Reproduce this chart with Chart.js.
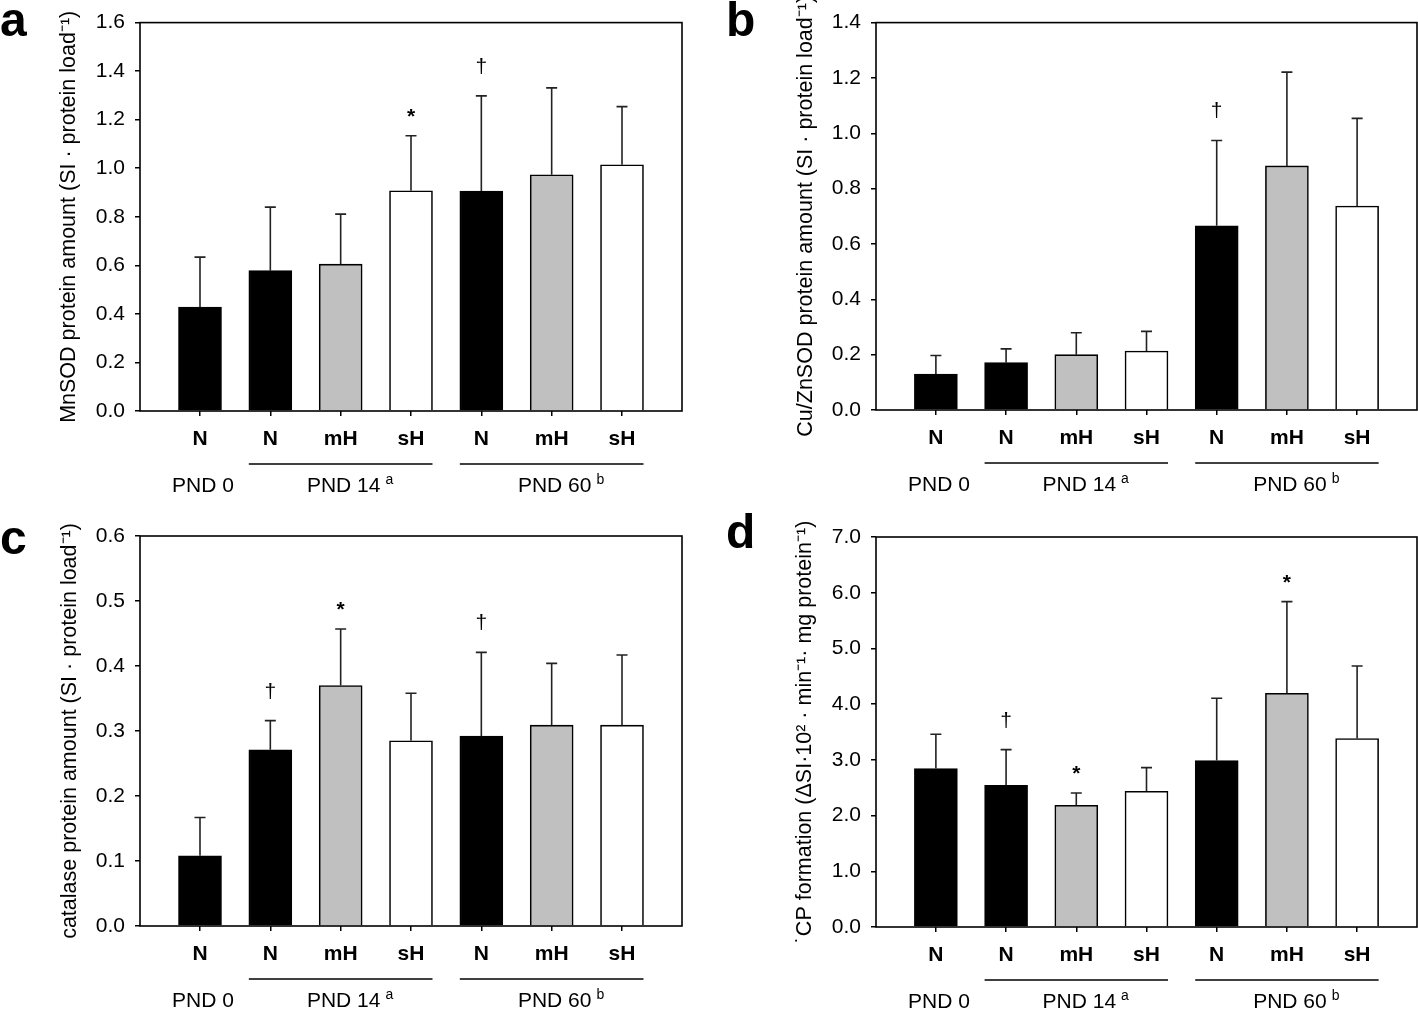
<!DOCTYPE html>
<html>
<head>
<meta charset="utf-8">
<script src="https://cdn.jsdelivr.net/npm/chart.js@4.4.1/dist/chart.umd.min.js"></script>
<style>
  body { margin: 0; background: #fff; }
  #wrap { position: relative; width: 1418px; height: 1010px; overflow: hidden; }
  .panel { position: absolute; }
</style>
</head>
<body>
<div id="wrap">
  <div class="panel" style="left:0;top:0;width:710px;height:510px"><canvas id="chartA"></canvas></div>
  <div class="panel" style="left:710px;top:0;width:708px;height:510px"><canvas id="chartB"></canvas></div>
  <div class="panel" style="left:0;top:510px;width:710px;height:500px"><canvas id="chartC"></canvas></div>
  <div class="panel" style="left:710px;top:510px;width:708px;height:500px"><canvas id="chartD"></canvas></div>
</div>
<script>
// categories (same for all four panels)
const groups = ["N", "N", "mH", "sH", "N", "mH", "sH"];
const barColors = ["#000000", "#000000", "#c0c0c0", "#ffffff", "#000000", "#c0c0c0", "#ffffff"];

// age groups under the x axis
const ageNames = ["PND 0", "PND 14", "PND 60"];
const ageSup = ["", "a", "b"];
const ageFrom = [0, 1, 4];
const ageTo = [0, 3, 6];

// a: MnSOD
const mnsodMean = [0.428, 0.578, 0.605, 0.907, 0.906, 0.973, 1.014];
const mnsodSd = [0.206, 0.262, 0.206, 0.227, 0.392, 0.358, 0.240];
const mnsodMarks = ["", "", "", "*", "\u2020", "", ""];

// b: Cu/ZnSOD
const cuznMean = [0.130, 0.171, 0.200, 0.213, 0.666, 0.882, 0.737];
const cuznSd = [0.067, 0.050, 0.079, 0.071, 0.308, 0.339, 0.317];
const cuznMarks = ["", "", "", "", "\u2020", "", ""];

// c: catalase
const catMean = [0.108, 0.271, 0.370, 0.285, 0.292, 0.309, 0.309];
const catSd = [0.059, 0.045, 0.087, 0.073, 0.129, 0.095, 0.108];
const catMarks = ["", "\u2020", "*", "", "\u2020", "", ""];

// d: CP formation
const cpMean = [2.843, 2.543, 2.184, 2.436, 2.987, 4.195, 3.382];
const cpSd = [0.616, 0.641, 0.221, 0.425, 1.118, 1.645, 1.303];
const cpMarks = ["", "\u2020", "*", "", "", "*", ""];

const FONT = "Arial, 'Liberation Sans', Helvetica, sans-serif";

function makePanel(id, cfg) {
  const extras = {
    id: "extras",
    afterDraw(chart) {
      const ctx = chart.ctx;
      const xs = chart.scales.x, ys = chart.scales.y;
      const area = chart.chartArea;
      ctx.save();

      // error bars (upper only)
      ctx.strokeStyle = "#222";
      ctx.lineWidth = 1.6;
      cfg.mean.forEach((m, i) => {
        const x = xs.getPixelForValue(i);
        const y0 = ys.getPixelForValue(m);
        const y1 = ys.getPixelForValue(m + cfg.sd[i]);
        ctx.beginPath();
        ctx.moveTo(x, y0); ctx.lineTo(x, y1);
        ctx.moveTo(x - 5.5, y1); ctx.lineTo(x + 5.5, y1);
        ctx.stroke();

        const mark = cfg.marks[i];
        if (mark) {
          ctx.fillStyle = "#000";
          ctx.textAlign = "center";
          ctx.textBaseline = "alphabetic";
          if (mark === "*") {
            ctx.font = "bold 21px " + FONT;
            ctx.fillText(mark, x, y1 - 13);
          } else {
            ctx.font = "21px " + FONT;
            ctx.fillText(mark, x, y1 - 23);
          }
        }
      });

      // frame
      ctx.strokeStyle = "#000";
      ctx.lineWidth = 1.6;
      ctx.strokeRect(area.left, area.top, area.right - area.left, area.bottom - area.top);

      // age groups
      const half = 21.5;
      ageNames.forEach((name, g) => {
        const xa = xs.getPixelForValue(ageFrom[g]);
        const xb = xs.getPixelForValue(ageTo[g]);
        if (ageTo[g] > ageFrom[g]) {
          ctx.strokeStyle = "#000";
          ctx.lineWidth = 1.5;
          ctx.beginPath();
          ctx.moveTo(xa - half, area.bottom + 53);
          ctx.lineTo(xb + half, area.bottom + 53);
          ctx.stroke();
        }
        const cx = (xa + xb) / 2 + 3;
        ctx.fillStyle = "#000";
        ctx.font = "21px " + FONT;
        ctx.textAlign = "center";
        ctx.textBaseline = "alphabetic";
        ctx.fillText(name, cx, area.bottom + 81);
        if (ageSup[g]) {
          const w = ctx.measureText(name).width;
          ctx.font = "14px " + FONT;
          ctx.textAlign = "left";
          ctx.fillText(ageSup[g], cx + w / 2 + 5, area.bottom + 73);
        }
      });

      // panel letter
      ctx.fillStyle = "#000";
      ctx.font = "bold 48px " + FONT;
      ctx.textAlign = "left";
      ctx.textBaseline = "alphabetic";
      ctx.fillText(cfg.letter, cfg.letterX, cfg.letterY);

      ctx.restore();
    }
  };

  return new Chart(document.getElementById(id), {
    type: "bar",
    data: {
      datasets: [{
        data: cfg.mean.map((v, i) => ({ x: i, y: v })),
        backgroundColor: barColors,
        borderColor: "#000",
        borderWidth: 1.6,
        barThickness: 43
      }]
    },
    options: {
      responsive: true,
      maintainAspectRatio: false,
      animation: false,
      layout: { padding: { top: cfg.padTop, right: cfg.padRight, left: 0, bottom: 0 } },
      plugins: { legend: { display: false }, tooltip: { enabled: false } },
      scales: {
        x: {
          type: "linear",
          offset: false,
          min: -0.853,
          max: 6.853,
          afterBuildTicks: s => { s.ticks = groups.map((g, i) => ({ value: i })); },
          afterFit: s => { s.height = cfg.xHeight; },
          grid: { display: true, offset: false, drawOnChartArea: false, drawTicks: true, tickLength: 5, color: "#000", lineWidth: 1.5 },
          border: { display: false },
          ticks: {
            autoSkip: false,
            maxRotation: 0,
            padding: 11,
            color: "#000",
            font: { family: FONT, size: 21, weight: "bold" },
            callback: v => groups[v]
          }
        },
        y: {
          min: 0,
          max: cfg.yMax,
          afterFit: s => { s.width = cfg.yWidth; },
          grid: { display: true, drawOnChartArea: false, drawTicks: true, tickLength: 5, color: "#000", lineWidth: 1.5 },
          border: { display: false },
          ticks: {
            stepSize: cfg.yStep,
            padding: 10,
            color: "#000",
            font: { family: FONT, size: 21 },
            callback: v => v.toFixed(1)
          },
          title: {
            display: true,
            text: cfg.title,
            color: "#000",
            font: { family: FONT, size: 21.5 },
            padding: { top: cfg.titlePad, bottom: 0 }
          }
        }
      }
    },
    plugins: [extras]
  });
}

makePanel("chartA", {
  mean: mnsodMean, sd: mnsodSd, marks: mnsodMarks,
  yMax: 1.6, yStep: 0.2,
  title: "MnSOD protein amount (SI \u00b7 protein load\u207b\u00b9)",
  letter: "a", letterX: 0, letterY: 36,
  yWidth: 140, xHeight: 99, padTop: 22, padRight: 28, titlePad: 56
});

makePanel("chartB", {
  mean: cuznMean, sd: cuznSd, marks: cuznMarks,
  yMax: 1.4, yStep: 0.2,
  title: "Cu/ZnSOD protein amount (SI \u00b7 protein load\u207b\u00b9)",
  letter: "b", letterX: 16, letterY: 36,
  yWidth: 166, xHeight: 100, padTop: 22, padRight: 1, titlePad: 83
});

makePanel("chartC", {
  mean: catMean, sd: catSd, marks: catMarks,
  yMax: 0.6, yStep: 0.1,
  title: "catalase protein amount (SI \u00b7 protein load\u207b\u00b9)",
  letter: "c", letterX: 0, letterY: 44,
  yWidth: 140, xHeight: 84, padTop: 26, padRight: 28, titlePad: 57
});

makePanel("chartD", {
  mean: cpMean, sd: cpSd, marks: cpMarks,
  yMax: 7.0, yStep: 1.0,
  title: "\u02d9CP formation (\u0394SI\u00b710\u00b2 \u00b7 min\u207b\u00b9\u00b7 mg protein\u207b\u00b9)",
  letter: "d", letterX: 16, letterY: 38,
  yWidth: 166, xHeight: 83, padTop: 27, padRight: 1, titlePad: 82
});
</script>
</body>
</html>
